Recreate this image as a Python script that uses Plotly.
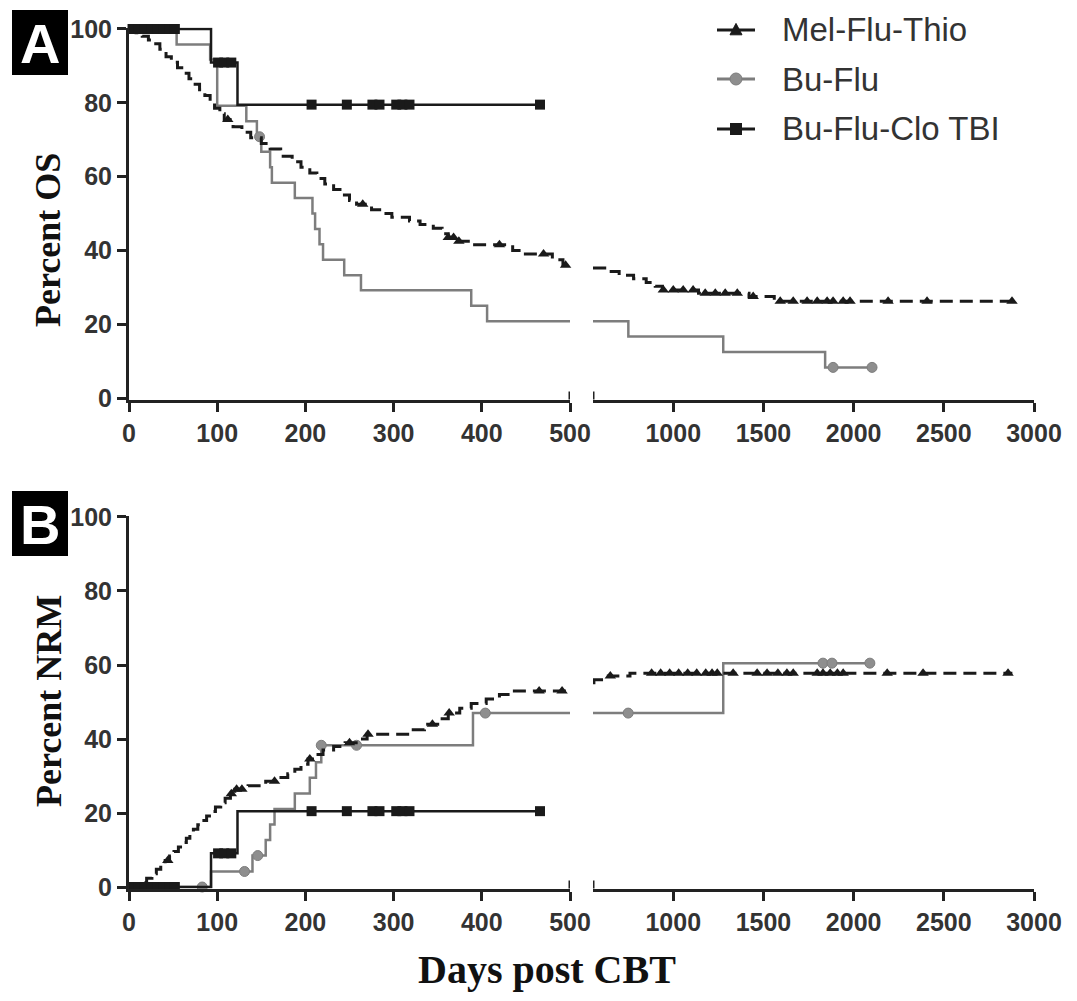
import numpy as np
import plotly.graph_objects as go

# page body has an 8px margin: the figure is sized to fit inside the window
OX, OY = 8, 8
W, H = 1061, 985

# ---------------- DATA ----------------
series_names = ["Mel-Flu-Thio", "Bu-Flu", "Bu-Flu-Clo TBI"]

# Panel A: percent overall survival (step points: day, percent)
os_mft_t = [0, 8, 15, 22, 28, 35, 42, 48, 55, 62, 68, 75, 80, 86, 92, 97, 103, 108, 118, 128,
            138, 150, 160, 172, 185, 195, 205, 213, 222, 232, 242, 250, 258, 275, 288, 298, 318,
            330, 345, 355, 362, 372, 388, 435, 445, 480, 492, 530, 620, 700, 780, 850, 900, 940,
            1140, 1420, 1560]
os_mft_v = [100, 99, 98, 97, 96, 94.5, 92.5, 91, 89.5, 88, 86.5, 85, 83.5, 82, 80, 78.5, 77, 75.5,
            73.5, 72, 70.5, 69, 67.5, 65.5, 64, 62.5, 61, 59.5, 58, 56.5, 55, 53.5, 52.5, 51, 50,
            49, 48, 47, 46, 44.5, 43.5, 42.5, 41.5, 40, 39, 37.5, 36, 35.2, 34.3, 33.3, 32.3, 31.3,
            30.3, 29.3, 28.4, 27.5, 26.2]
os_mft_end = 2880
os_mft_cens = [112, 265, 362, 368, 374, 420, 470, 495, 945, 1000, 1055, 1110, 1177, 1233, 1288,
               1355, 1443, 1593, 1665, 1742, 1798, 1853, 1886, 1942, 1980, 2191, 2407, 2878]

os_bf_t = [0, 54, 92, 100, 133, 145, 150, 160, 162, 188, 208, 211, 216, 220, 244, 263, 388, 406,
           751, 1277, 1842]
os_bf_v = [100, 95.8, 91.7, 79.2, 75, 70.8, 66.7, 62.5, 58.3, 54.2, 50, 45.8, 41.7, 37.5, 33.3,
           29.2, 25, 20.8, 16.7, 12.5, 8.3]
os_bf_end = 2102
os_bf_cens = [148, 1886, 2102]

os_bfc_t = [0, 93, 123]
os_bfc_v = [100, 90.9, 79.5]
os_bfc_end = 466
os_bfc_cens = [4, 11, 18, 25, 32, 39, 46, 52, 101, 108, 116, 207, 247, 276, 284, 303, 310, 318, 466]

# Panel B: percent non-relapse mortality (step points: day, percent)
nrm_mft_t = [0, 14, 20, 26, 31, 36, 41, 46, 51, 56, 61, 65, 69, 73, 78, 83, 88, 93, 98, 104, 109,
             115, 120, 135, 155, 170, 180, 188, 195, 203, 210, 220, 232, 245, 260, 270, 320, 335,
             350, 362, 375, 388, 405, 420, 435, 520, 540, 560, 640, 760]
nrm_mft_v = [0, 1.2, 2.4, 3.6, 4.8, 6, 7.2, 8.4, 9.6, 10.8, 12, 13.2, 14.4, 15.6, 16.8, 18, 19.2,
             20.4, 21.6, 22.8, 24, 25.2, 26.4, 27.4, 28.6, 29.6, 30.6, 31.8, 33.2, 34.6, 35.8, 37,
             38, 39, 40, 41.3, 42.5, 44, 45.5, 47, 48.3, 49.6, 50.8, 52, 53, 54.4, 55.2, 56, 57,
             57.8]
nrm_mft_end = 2880
nrm_mft_cens = [44, 116, 122, 128, 165, 205, 250, 271, 344, 363, 465, 491, 651, 880, 930, 980,
                1030, 1080, 1130, 1180, 1215, 1244, 1332, 1465, 1520, 1580, 1630, 1665, 1798,
                1830, 1870, 1910, 1942, 2186, 2385, 2856]

nrm_bf_t = [0, 93, 140, 155, 160, 165, 188, 205, 212, 218, 390, 1277]
nrm_bf_v = [0, 4.2, 8.5, 12.7, 16.9, 21.1, 25.3, 29.5, 33.7, 38.3, 47, 60.5]
nrm_bf_end = 2090
nrm_bf_cens = [83, 131, 146, 218, 258, 404, 750, 1830, 1880, 2090]

nrm_bfc_t = [0, 93, 123]
nrm_bfc_v = [0, 9.1, 20.5]
nrm_bfc_end = 466
nrm_bfc_cens = [4, 11, 18, 25, 32, 39, 46, 52, 101, 108, 116, 207, 247, 276, 284, 303, 310, 318, 466]

x_left_ticks = [0, 100, 200, 300, 400, 500]
x_right_ticks = [1000, 1500, 2000, 2500, 3000]
y_ticks = [0, 20, 40, 60, 80, 100]

# ---------------- LAYOUT CONSTANTS ----------------
LEFT_MAX = 500
RIGHT_MIN = 555
RIGHT_MAX = 3000
YR = [-0.4, 100.4]


def px_x(p):
    return (p - OX) / W


def px_y(p):
    return 1 - (p - OY) / H


XL_DOM = [px_x(129), px_x(570)]
XR_DOM = [px_x(593), px_x(1034)]
YA_DOM = [px_y(399.5), px_y(27.5)]
YB_DOM = [px_y(888.5), px_y(515.5)]

BLACK = "#1a1a1a"
GRAY = "#7d7d7d"
GRAY_M = "#8e8e8e"
AXC = "#222222"
TXT = "#333333"


def step_value(t, v, x):
    idx = int(np.searchsorted(np.asarray(t), x, side="right")) - 1
    return v[idx]


def split_step(t, v, end):
    lx = [ti for ti in t if ti <= LEFT_MAX]
    ly = [vi for ti, vi in zip(t, v) if ti <= LEFT_MAX]
    lx.append(min(end, LEFT_MAX))
    ly.append(ly[-1])
    rx, ry = [], []
    if end > RIGHT_MIN:
        rx = [RIGHT_MIN] + [ti for ti in t if ti > RIGHT_MIN] + [end]
        ry = [step_value(t, v, RIGHT_MIN)] + [vi for ti, vi in zip(t, v) if ti > RIGHT_MIN] + \
             [step_value(t, v, end)]
    return lx, ly, rx, ry


fig = go.Figure()

styles = {
    "mft": dict(line=dict(color=BLACK, width=3, dash="13px,7px"),
                marker=dict(symbol="triangle-up", size=10, color=BLACK)),
    "bf": dict(line=dict(color=GRAY, width=2.5),
               marker=dict(symbol="circle", size=10, color=GRAY_M, line=dict(color=GRAY, width=1))),
    "bfc": dict(line=dict(color=BLACK, width=2.5),
                marker=dict(symbol="square", size=10, color=BLACK)),
}


def add_series(key, t, v, end, cens, xl, xr, ya):
    st = styles[key]
    lx, ly, rx, ry = split_step(t, v, end)
    fig.add_trace(go.Scatter(x=lx, y=ly, mode="lines", line=st["line"], line_shape="hv",
                             xaxis=xl, yaxis=ya, showlegend=False, hoverinfo="skip"))
    if rx:
        fig.add_trace(go.Scatter(x=rx, y=ry, mode="lines", line=st["line"], line_shape="hv",
                                 xaxis=xr, yaxis=ya, showlegend=False, hoverinfo="skip"))
    cl = [c for c in cens if c <= LEFT_MAX]
    cr = [c for c in cens if c >= RIGHT_MIN]
    if cl:
        fig.add_trace(go.Scatter(x=cl, y=[step_value(t, v, c) for c in cl], mode="markers",
                                 marker=st["marker"], xaxis=xl, yaxis=ya, showlegend=False,
                                 cliponaxis=False, hoverinfo="skip"))
    if cr:
        fig.add_trace(go.Scatter(x=cr, y=[step_value(t, v, c) for c in cr], mode="markers",
                                 marker=st["marker"], xaxis=xr, yaxis=ya, showlegend=False,
                                 cliponaxis=False, hoverinfo="skip"))


# Panel A
add_series("bf", os_bf_t, os_bf_v, os_bf_end, os_bf_cens, "x", "x2", "y")
add_series("mft", os_mft_t, os_mft_v, os_mft_end, os_mft_cens, "x", "x2", "y")
add_series("bfc", os_bfc_t, os_bfc_v, os_bfc_end, os_bfc_cens, "x", "x2", "y")
# Panel B
add_series("bf", nrm_bf_t, nrm_bf_v, nrm_bf_end, nrm_bf_cens, "x3", "x4", "y2")
add_series("mft", nrm_mft_t, nrm_mft_v, nrm_mft_end, nrm_mft_cens, "x3", "x4", "y2")
add_series("bfc", nrm_bfc_t, nrm_bfc_v, nrm_bfc_end, nrm_bfc_cens, "x3", "x4", "y2")

tickfont = dict(family="Liberation Sans, Arial", size=25, color=TXT, weight="bold")
ax_common = dict(showline=True, linecolor=AXC, linewidth=3, ticks="outside", ticklen=9,
                 tickwidth=3, tickcolor=AXC, showgrid=False, zeroline=False, tickfont=tickfont,
                 automargin=False, fixedrange=True)

fig.update_layout(
    width=W, height=H, margin=dict(l=0, r=0, t=0, b=0), autosize=False,
    paper_bgcolor="white", plot_bgcolor="white", showlegend=False,
    xaxis=dict(domain=XL_DOM, range=[0, LEFT_MAX], tickvals=x_left_ticks, anchor="y", **ax_common),
    xaxis2=dict(domain=XR_DOM, range=[RIGHT_MIN, RIGHT_MAX], tickvals=x_right_ticks, anchor="y",
                **ax_common),
    yaxis=dict(domain=YA_DOM, range=YR, tickvals=y_ticks, anchor="x", **ax_common),
    xaxis3=dict(domain=XL_DOM, range=[0, LEFT_MAX], tickvals=x_left_ticks, anchor="y2",
                **ax_common),
    xaxis4=dict(domain=XR_DOM, range=[RIGHT_MIN, RIGHT_MAX], tickvals=x_right_ticks, anchor="y2",
                **ax_common),
    yaxis2=dict(domain=YB_DOM, range=YR, tickvals=y_ticks, anchor="x3", **ax_common),
)

# axis break caps
for xa, xv, ya in [("x", LEFT_MAX, "y"), ("x2", RIGHT_MIN, "y"),
                   ("x3", LEFT_MAX, "y2"), ("x4", RIGHT_MIN, "y2")]:
    fig.add_shape(type="line", xref=xa, yref=ya, x0=xv, x1=xv, ysizemode="pixel", yanchor=YR[0],
                  y0=-8, y1=8, line=dict(color=AXC, width=3))

# ---- legend drawn as layout shapes + annotations ----
LEG_ROWS = [30, 79, 129]
LEG_LINE_X = (717, 755)
LEG_MARK_X = 736
LEG_TEXT_X = 780
for name, key, ry in zip(series_names, ["mft", "bf", "bfc"], LEG_ROWS):
    st = styles[key]
    col = st["line"]["color"]
    fig.add_shape(type="line", xref="paper", yref="paper", x0=px_x(LEG_LINE_X[0]),
                  x1=px_x(LEG_LINE_X[1]), y0=px_y(ry), y1=px_y(ry),
                  line=dict(color=col, width=3))
    r = 6
    if key == "mft":
        path = (f"M {px_x(LEG_MARK_X - r)},{px_y(ry + r * 0.8)} "
                f"L {px_x(LEG_MARK_X + r)},{px_y(ry + r * 0.8)} "
                f"L {px_x(LEG_MARK_X)},{px_y(ry - r * 1.1)} Z")
        fig.add_shape(type="path", xref="paper", yref="paper", path=path, fillcolor=BLACK,
                      line=dict(color=BLACK, width=1))
    elif key == "bf":
        fig.add_shape(type="circle", xref="paper", yref="paper", x0=px_x(LEG_MARK_X - r),
                      x1=px_x(LEG_MARK_X + r), y0=px_y(ry + r), y1=px_y(ry - r),
                      fillcolor=GRAY_M, line=dict(color=GRAY, width=1))
    else:
        fig.add_shape(type="rect", xref="paper", yref="paper", x0=px_x(LEG_MARK_X - r),
                      x1=px_x(LEG_MARK_X + r), y0=px_y(ry + r), y1=px_y(ry - r),
                      fillcolor=BLACK, line=dict(width=0))
    fig.add_annotation(text=name, xref="paper", yref="paper", x=px_x(LEG_TEXT_X), y=px_y(ry),
                       showarrow=False, xanchor="left", yanchor="middle",
                       font=dict(family="Liberation Sans, Arial", size=33, color=TXT))

# panel labels
for lab, top, bot in [("A", 10, 75), ("B", 491, 556)]:
    fig.add_shape(type="rect", xref="paper", yref="paper", x0=px_x(12), x1=px_x(68),
                  y0=px_y(bot), y1=px_y(top), fillcolor="black", line=dict(width=0))
    fig.add_annotation(text=f"<b>{lab}</b>", xref="paper", yref="paper", x=px_x(40),
                       y=px_y((top + bot) / 2 + 1), showarrow=False, xanchor="center",
                       yanchor="middle",
                       font=dict(family="Liberation Sans, Arial", size=56, color="white"))

# axis titles
title_font = dict(family="Liberation Serif, Times New Roman", size=36, color="#111111")
fig.add_annotation(text="<b>Percent OS</b>", xref="paper", yref="paper", x=px_x(48),
                   y=px_y(240), textangle=-90, showarrow=False, xanchor="center",
                   yanchor="middle", font=title_font)
fig.add_annotation(text="<b>Percent NRM</b>", xref="paper", yref="paper", x=px_x(49),
                   y=px_y(701), textangle=-90, showarrow=False, xanchor="center",
                   yanchor="middle", font=title_font)
fig.add_annotation(text="<b>Days post CBT</b>", xref="paper", yref="paper", x=px_x(547),
                   y=px_y(969), showarrow=False, xanchor="center", yanchor="middle",
                   font=dict(family="Liberation Serif, Times New Roman", size=40,
                             color="#111111"))

fig.write_html("out.html")
